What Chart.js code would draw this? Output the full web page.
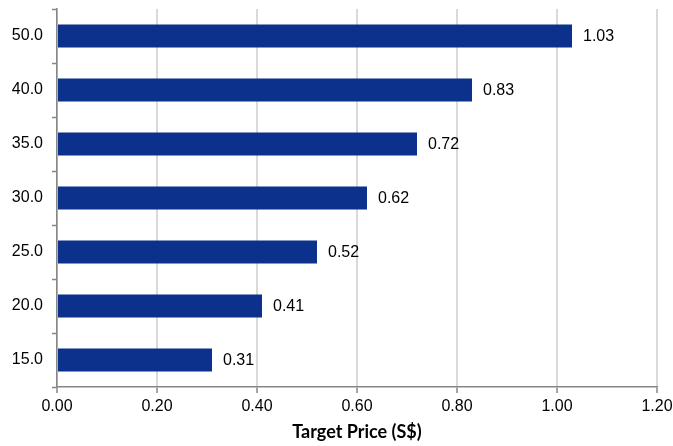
<!DOCTYPE html>
<html>
<head>
<meta charset="utf-8">
<script src="https://cdn.jsdelivr.net/npm/chart.js@4/dist/chart.umd.min.js"></script>
<style>
  html, body { margin: 0; padding: 0; background: #fff; }
  #wrap { width: 673px; height: 446px; }
</style>
</head>
<body>
<div id="wrap"><canvas id="price_chart"></canvas></div>
<script>
var pe_levels = ["50.0", "40.0", "35.0", "30.0", "25.0", "20.0", "15.0"];
var target_price = [1.03, 0.83, 0.72, 0.62, 0.52, 0.41, 0.31];
var x_ticks = [0, 0.2, 0.4, 0.6, 0.8, 1.0, 1.2];

var sans = '"Liberation Sans", Arial, sans-serif';

// writes the value just past the end of each bar
var barValues = {
  id: 'barValues',
  afterDatasetsDraw: function(chart) {
    var ctx = chart.ctx;
    var meta = chart.getDatasetMeta(0);
    ctx.save();
    ctx.font = '16px ' + sans;
    ctx.fillStyle = '#000';
    ctx.textAlign = 'left';
    ctx.textBaseline = 'middle';
    meta.data.forEach(function(bar, i) {
      ctx.fillText(target_price[i].toFixed(2), bar.x + 11, bar.y + 1);
    });
    ctx.restore();
  }
};

var ctx = document.getElementById('price_chart');

var barGraph = new Chart(ctx, {
  type: 'bar',
  data: {
    labels: pe_levels,
    datasets: [{
      data: target_price,
      backgroundColor: '#0b318c',
      borderWidth: 0,
      categoryPercentage: 1.0,
      barPercentage: 0.43
    }]
  },
  options: {
    indexAxis: 'y',
    responsive: true,
    maintainAspectRatio: false,
    animation: false,
    layout: { padding: { top: 9, right: 16, left: 0, bottom: 0 } },
    plugins: {
      legend: { display: false },
      tooltip: { enabled: false }
    },
    scales: {
      x: {
        min: 0,
        max: 1.2,
        afterBuildTicks: function(axis) {
          axis.ticks = x_ticks.map(function(v) { return { value: v }; });
        },
        afterFit: function(axis) {
          axis.height = 59;
          axis.paddingLeft = 0;
          axis.paddingRight = 0;
        },
        grid: {
          color: '#d9d9d9',
          lineWidth: 2,
          tickColor: '#868686',
          tickLength: 6,
          tickWidth: 1.5
        },
        border: { color: '#868686', width: 1.5 },
        ticks: {
          color: '#000',
          padding: 4,
          maxRotation: 0,
          font: { family: sans, size: 16 },
          callback: function(v) { return Number(v).toFixed(2); }
        },
        title: {
          display: true,
          text: 'Target Price (S$)',
          color: '#000',
          padding: { top: 4, bottom: 3 },
          font: { family: 'Lato, "Open Sans", sans-serif', size: 18, weight: 'bold' }
        }
      },
      y: {
        afterFit: function(axis) {
          axis.width = 57;
          axis.paddingTop = 0;
          axis.paddingBottom = 0;
        },
        grid: {
          offset: true,
          drawOnChartArea: false,
          tickColor: '#868686',
          tickLength: 5,
          tickWidth: 1.5
        },
        border: { color: '#868686', width: 1.5 },
        ticks: {
          color: '#000',
          padding: 9,
          font: { family: sans, size: 16 }
        }
      }
    }
  },
  plugins: [barValues]
});
</script>
</body>
</html>
